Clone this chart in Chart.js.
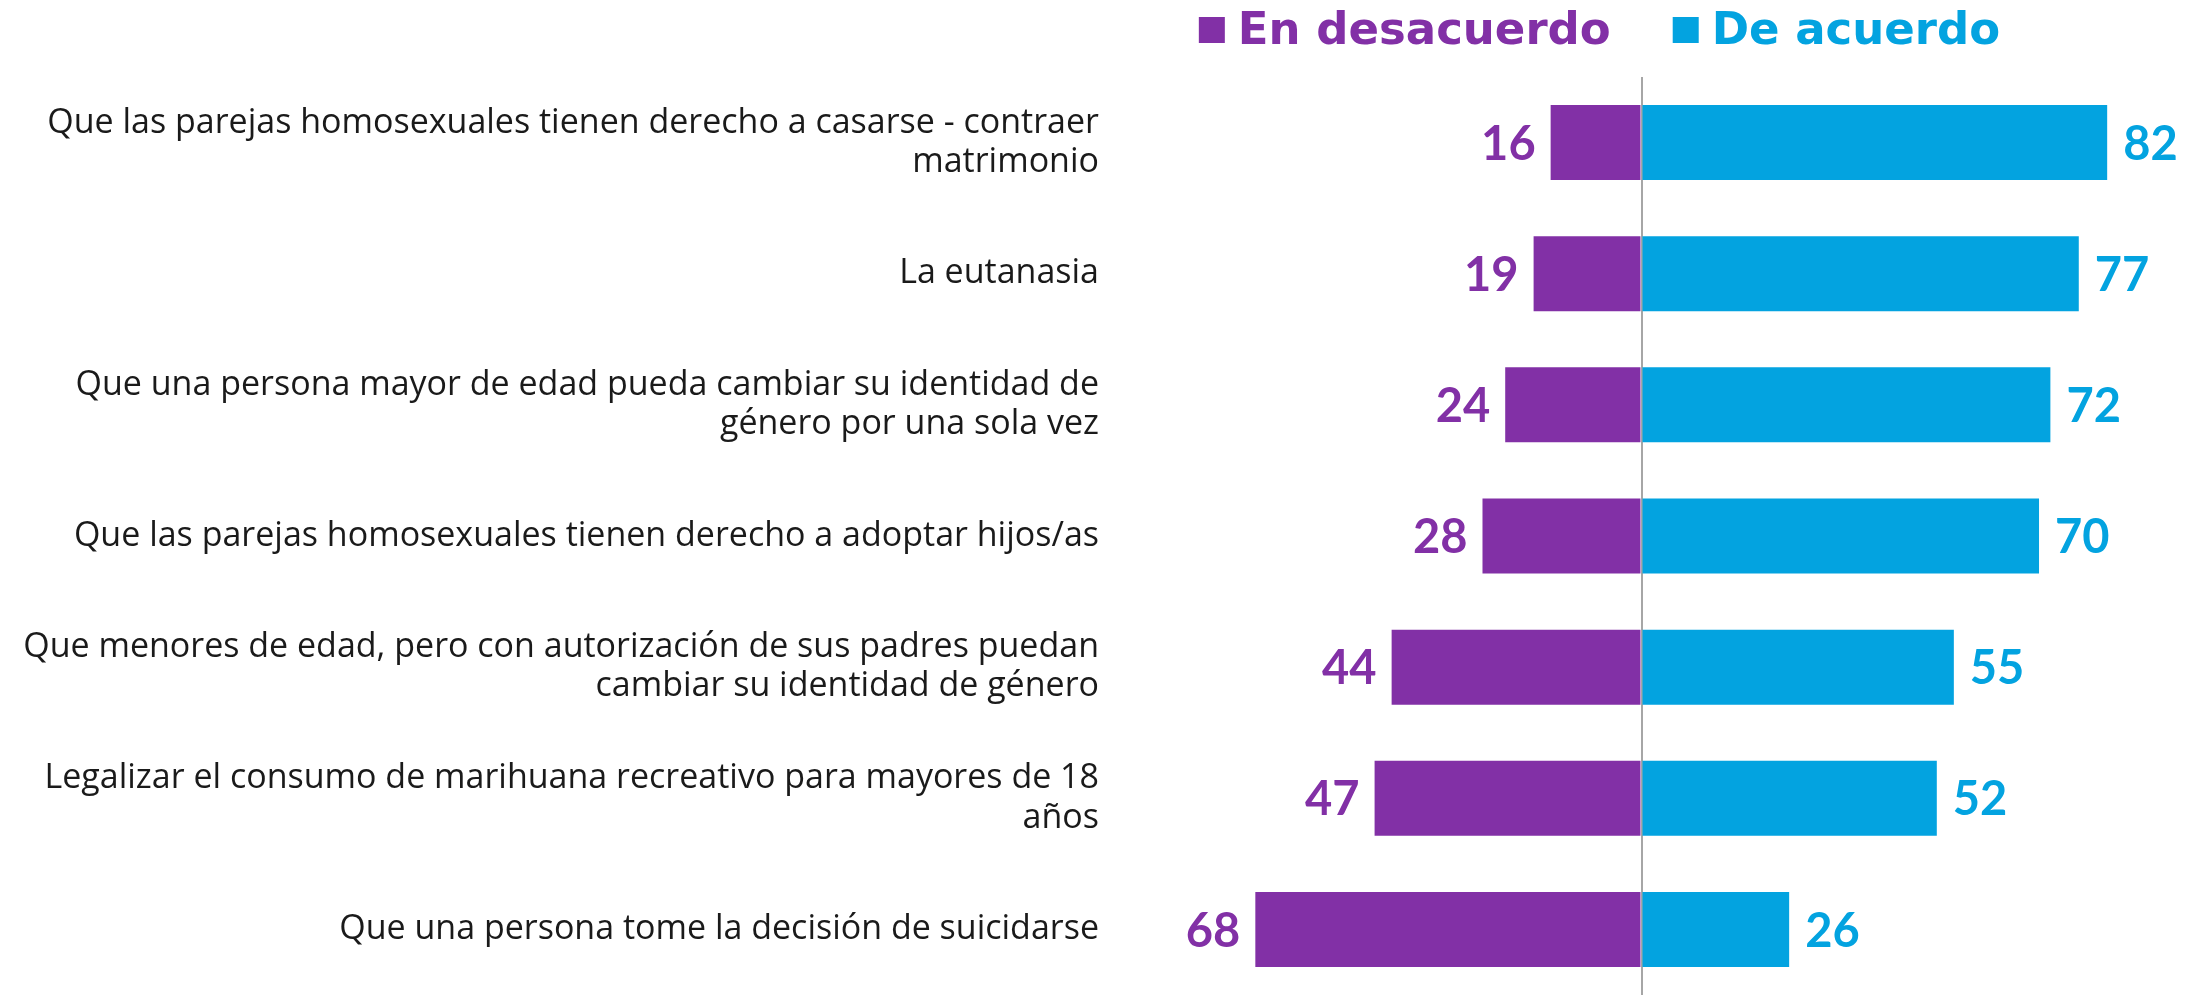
<!DOCTYPE html>
<html>
<head>
<meta charset="utf-8">
<script src="https://cdn.jsdelivr.net/npm/chart.js@4.4.0/dist/chart.umd.min.js"></script>
<style>
  html, body { margin: 0; padding: 0; background: #fff; }
  #wrap { width: 2200px; height: 995px; }
</style>
</head>
<body>
<div id="wrap"><canvas id="barChart" width="2200" height="995"></canvas></div>
<script>
const categories = [
  ["Que las parejas homosexuales tienen derecho a casarse - contraer", "matrimonio"],
  "La eutanasia",
  ["Que una persona mayor de edad pueda cambiar su identidad de", "género por una sola vez"],
  "Que las parejas homosexuales tienen derecho a adoptar hijos/as",
  ["Que menores de edad, pero con autorización de sus padres puedan", "cambiar su identidad de género"],
  ["Legalizar el consumo de marihuana recreativo para mayores de 18", "años"],
  "Que una persona tome la decisión de suicidarse"
];
const desacuerdo = [16, 19, 24, 28, 44, 47, 68];
const deAcuerdo = [82, 77, 72, 70, 55, 52, 26];

const purple = "#8230A6";
const blue = "#03A3E0";

// etiquetas de valor al final de cada barra
const valueLabels = {
  id: 'valueLabels',
  afterDatasetsDraw(chart) {
    const c = chart.ctx;
    c.save();
    c.font = "bold 47px Lato, sans-serif";
    c.textBaseline = 'middle';
    chart.data.datasets.forEach((ds, i) => {
      const meta = chart.getDatasetMeta(i);
      meta.data.forEach((bar, j) => {
        const v = ds.raw[j];
        c.fillStyle = ds.backgroundColor;
        if (ds.data[j] < 0) {
          c.textAlign = 'right';
          c.fillText(v, bar.x - 15, bar.y + 2);
        } else {
          c.textAlign = 'left';
          c.fillText(v, bar.x + 16, bar.y + 2);
        }
      });
    });
    c.restore();
  }
};

// leyenda arriba, centrada un poco a la izquierda de la línea del cero
const topLegend = {
  id: 'topLegend',
  afterDraw(chart) {
    const c = chart.ctx;
    const zero = chart.scales.x.getPixelForValue(0);
    const box = 26, gapBox = 13, gapItem = 62;
    c.save();
    c.font = "bold 45px 'DejaVu Sans', sans-serif";
    c.textBaseline = 'alphabetic';
    c.textAlign = 'left';
    const items = chart.data.datasets.map(ds => ({ text: ds.label, color: ds.backgroundColor, w: c.measureText(ds.label).width }));
    let total = 0;
    items.forEach((it, i) => { total += box + gapBox + it.w + (i ? gapItem : 0); });
    let x = zero - 42 - total / 2;
    items.forEach(it => {
      c.fillStyle = it.color;
      c.fillRect(x, 17, box, box);
      c.fillText(it.text, x + box + gapBox, 44);
      x += box + gapBox + it.w + gapItem;
    });
    c.restore();
  }
};

new Chart(document.getElementById('barChart'), {
  type: 'bar',
  data: {
    labels: categories,
    datasets: [{
      label: 'En desacuerdo',
      raw: desacuerdo,
      data: desacuerdo.map(v => -v),
      backgroundColor: purple,
      barPercentage: 0.572,
      categoryPercentage: 1
    }, {
      label: 'De acuerdo',
      raw: deAcuerdo,
      data: deAcuerdo,
      backgroundColor: blue,
      barPercentage: 0.572,
      categoryPercentage: 1
    }]
  },
  options: {
    indexAxis: 'y',
    responsive: false,
    animation: false,
    layout: { padding: { top: 77, right: 19, bottom: 0, left: 0 } },
    plugins: {
      tooltip: { enabled: false },
      legend: { display: false }
    },
    scales: {
      x: {
        stacked: true,
        min: -95,
        max: 95,
        ticks: { display: false, stepSize: 5 },
        border: { display: false },
        grid: {
          drawTicks: false,
          lineWidth: 2,
          color: ctx => ctx.tick && ctx.tick.value === 0 ? '#a6a6a6' : 'rgba(0,0,0,0)'
        }
      },
      y: {
        stacked: true,
        afterFit(scale) {
          scale.width = 1102;
          scale.paddingTop = 0;
          scale.paddingBottom = 0;
        },
        border: { display: false },
        grid: { display: false },
        ticks: {
          color: '#1a1a1a',
          padding: -5,
          font: { size: 34, family: "'Open Sans', sans-serif", lineHeight: 1.15 }
        }
      }
    }
  },
  plugins: [valueLabels, topLegend]
});
</script>
</body>
</html>
